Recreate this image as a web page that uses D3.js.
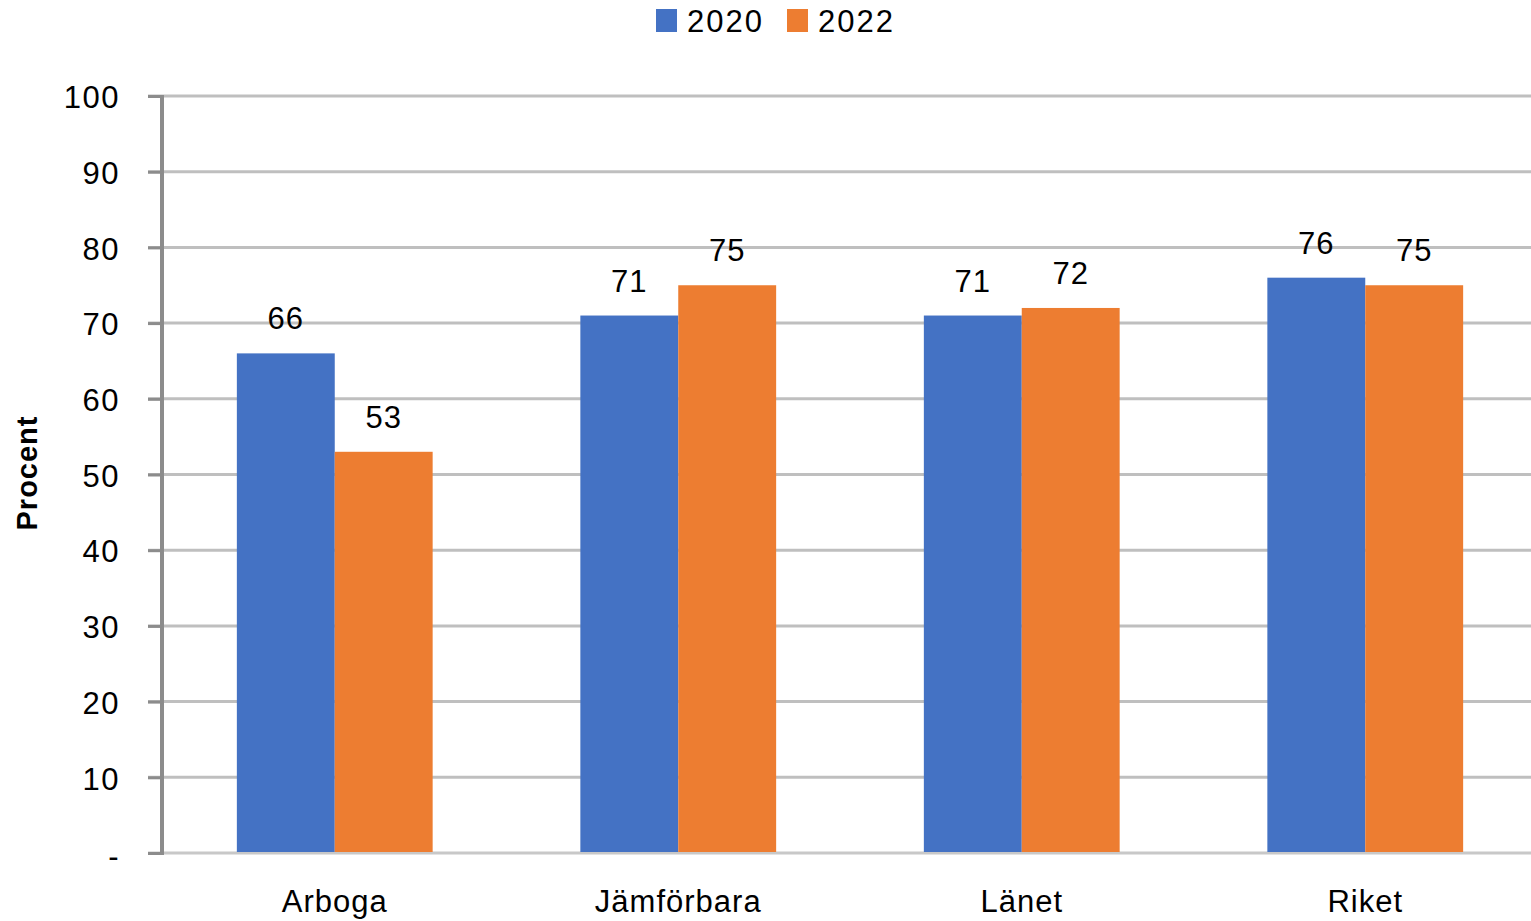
<!DOCTYPE html>
<html>
<head>
<meta charset="utf-8">
<script src="https://cdn.jsdelivr.net/npm/d3@7"></script>
<style>
html,body{margin:0;padding:0;background:#fff;}
svg{display:block;}
text{font-family:"Liberation Sans",Arial,sans-serif;fill:#000;}
</style>
</head>
<body>
<svg id="chart" width="1531" height="921"></svg>
<script>
const categories = ["Arboga", "Jämförbara", "Länet", "Riket"];
const seriesNames = ["2020", "2022"];
const values2020 = [66, 71, 71, 76];
const values2022 = [53, 75, 72, 75];
const yTicks = [0, 10, 20, 30, 40, 50, 60, 70, 80, 90, 100];
const colors = ["#4472C4", "#ED7D31"];

(function () {
const svg = d3.select("#chart");
const W = 1531;
const plotLeft = 163, plotRight = 1537, plotTop = 96, plotBottom = 853;

const y = d3.scaleLinear().domain([0, 100]).range([plotBottom, plotTop]);
const x0 = d3.scaleBand().domain(categories).range([plotLeft, plotRight])
  .paddingInner(0.43).paddingOuter(0.215);
const x1 = d3.scaleBand().domain(seriesNames).range([0, x0.bandwidth()]).padding(0);

const data = categories.map((c, i) => ({cat: c, vals: [values2020[i], values2022[i]]}));

// gridlines
svg.append("g").selectAll("line").data(yTicks).join("line")
  .attr("x1", 148).attr("x2", W)
  .attr("y1", d => y(d)).attr("y2", d => y(d))
  .attr("stroke", d => d === 0 ? "#c8c8c8" : "#bfbfbf")
  .attr("stroke-width", 3);

// y axis
const yAxis = d3.axisLeft(y).tickValues(yTicks).tickSize(14).tickPadding(28)
  .tickFormat(d => d === 0 ? "-" : d);
const gy = svg.append("g").attr("transform", `translate(${plotLeft - 1},0)`).call(yAxis);
gy.select(".domain").attr("stroke", "#8c8c8c").attr("stroke-width", 4)
  .attr("d", `M0,${plotTop - 1}V${plotBottom + 2}`);
gy.selectAll(".tick line").attr("stroke", "#8c8c8c").attr("stroke-width", 3);
gy.selectAll(".tick text").attr("font-size", 31).attr("fill", "#000")
  .attr("font-family", "'Liberation Sans', Arial, sans-serif")
  .attr("dy", d => d === 0 ? "0.45em" : "0.38em")
  .style("letter-spacing", "1.5px");

// bars
const groups = svg.append("g").selectAll("g").data(data).join("g")
  .attr("transform", d => `translate(${x0(d.cat)},0)`);
groups.selectAll("rect").data(d => d.vals.map((v, i) => ({s: seriesNames[i], v, i}))).join("rect")
  .attr("x", d => x1(d.s)).attr("width", x1.bandwidth())
  .attr("y", d => y(d.v)).attr("height", d => y(0) - y(d.v) - 1)
  .attr("fill", d => colors[d.i]);
groups.selectAll("text").data(d => d.vals.map((v, i) => ({s: seriesNames[i], v, i}))).join("text")
  .attr("x", d => x1(d.s) + x1.bandwidth() / 2)
  .attr("y", d => y(d.v) - 24)
  .attr("text-anchor", "middle").attr("font-size", 31)
  .style("letter-spacing", "1px")
  .text(d => d.v);

// x labels
svg.append("g").selectAll("text").data(categories).join("text")
  .attr("x", d => x0(d) + x0.bandwidth() / 2)
  .attr("y", 912)
  .attr("text-anchor", "middle").attr("font-size", 31)
  .style("letter-spacing", "1px")
  .text(d => d);

// y title
svg.append("text")
  .attr("transform", "translate(37,473) rotate(-90)")
  .attr("text-anchor", "middle").attr("font-size", 29).attr("font-weight", "bold")
  .style("letter-spacing", "1px")
  .text("Procent");

// legend
const leg = svg.append("g");
const legX = [656, 787];
seriesNames.forEach((s, i) => {
  leg.append("rect").attr("x", legX[i]).attr("y", 9).attr("width", 21).attr("height", 23).attr("fill", colors[i]);
  leg.append("text").attr("x", legX[i] + 31).attr("y", 32).attr("font-size", 31)
    .style("letter-spacing", "2px").text(s);
});
})();
</script>
</body>
</html>
